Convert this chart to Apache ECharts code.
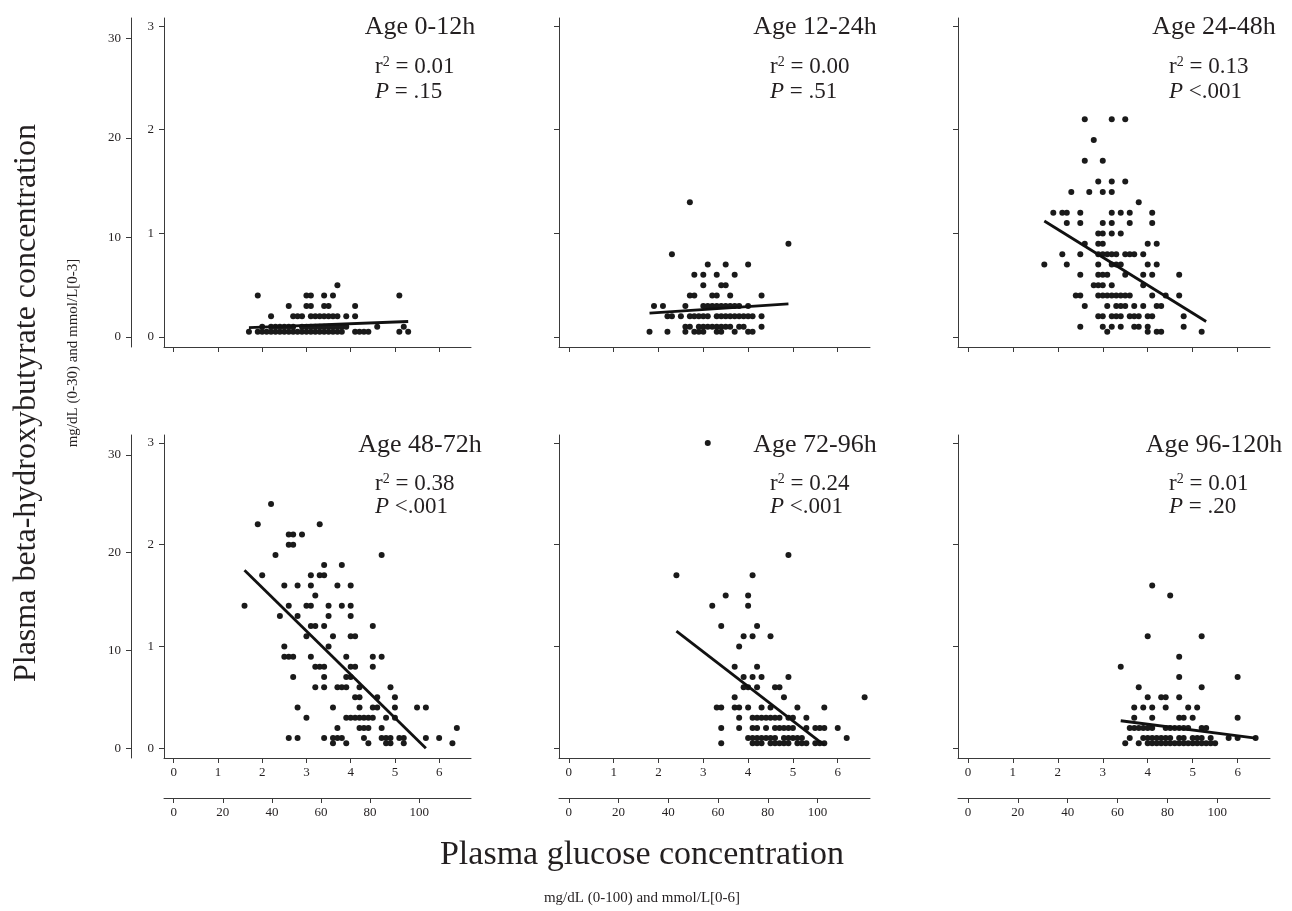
<!DOCTYPE html>
<html><head><meta charset="utf-8">
<script src="https://cdn.jsdelivr.net/npm/echarts@6/dist/echarts.min.js"></script>
<style>html,body{margin:0;padding:0;background:#fff}#c{width:1292px;height:911px}</style>
</head><body><div id="c"></div>
<script>
// ---------- DATA ----------
const ageLabels = ['Age 0-12h','Age 12-24h','Age 24-48h','Age 48-72h','Age 72-96h','Age 96-120h'];
const r2Labels = ['0.01','0.00','0.13','0.38','0.24','0.01'];
const pLabels = ['= .15','= .51','<.001','<.001','<.001','= .20'];
const glucoseTicksMmol = [0,1,2,3,4,5,6];
const glucoseTicksMg = [0,20,40,60,80,100];
const bhbTicksMmol = [0,1,2,3];
const bhbTicksMg = [0,10,20,30];

// rows: [beta-hydroxybutyrate mmol/L, [glucose mmol/L, ...]]
const age0_12 = [
 [0.5,[3.7]],
 [0.4,[1.9,3.0,3.1,3.4,3.6,5.1]],
 [0.3,[2.6,3.0,3.1,3.4,3.5,4.1]],
 [0.2,[2.2,2.7,2.8,2.9,3.1,3.2,3.3,3.4,3.5,3.6,3.7,3.9,4.1]],
 [0.1,[2.0,2.2,2.3,2.4,2.5,2.6,2.7,2.9,3.0,3.1,3.2,3.3,3.4,3.5,3.6,3.7,3.8,3.9,4.6,5.2]],
 [0.05,[1.7,1.9,2.0,2.1,2.2,2.3,2.4,2.5,2.6,2.7,2.8,2.9,3.0,3.1,3.2,3.3,3.4,3.5,3.6,3.7,3.8,4.1,4.2,4.3,4.4,5.1,5.3]]
];
const age12_24 = [
 [1.3,[2.7]],
 [0.9,[4.9]],
 [0.8,[2.3]],
 [0.7,[3.1,3.5,4.0]],
 [0.6,[2.8,3.0,3.3,3.7]],
 [0.5,[3.0,3.4,3.5]],
 [0.4,[2.7,2.8,3.2,3.3,3.6,4.3]],
 [0.3,[1.9,2.1,2.6,3.0,3.1,3.2,3.3,3.4,3.5,3.6,3.7,3.8,4.0]],
 [0.2,[2.2,2.3,2.5,2.7,2.8,2.9,3.0,3.1,3.3,3.4,3.5,3.6,3.7,3.8,3.9,4.0,4.1,4.3]],
 [0.1,[2.6,2.7,2.9,3.0,3.1,3.2,3.3,3.4,3.5,3.6,3.8,3.9,4.3]],
 [0.05,[1.8,2.2,2.6,2.8,2.9,3.0,3.3,3.4,3.7,4.0,4.1]]
];
const age24_48 = [
 [2.1,[2.6,3.2,3.5]],
 [1.9,[2.8]],
 [1.7,[2.6,3.0]],
 [1.5,[2.9,3.2,3.5]],
 [1.4,[2.3,2.7,3.0,3.2]],
 [1.3,[3.8]],
 [1.2,[1.9,2.1,2.2,2.5,3.2,3.4,3.6,4.1]],
 [1.1,[2.2,2.5,3.0,3.2,3.6,4.1]],
 [1.0,[2.9,3.0,3.2,3.4]],
 [0.9,[2.6,2.9,3.0,4.0,4.2]],
 [0.8,[2.1,2.5,2.9,3.0,3.1,3.2,3.3,3.5,3.6,3.7,3.9]],
 [0.7,[1.7,2.2,2.9,3.2,3.3,3.4,4.0,4.2]],
 [0.6,[2.5,2.9,3.0,3.1,3.5,3.9,4.1,4.7]],
 [0.5,[2.8,2.9,3.0,3.2,3.9]],
 [0.4,[2.4,2.5,2.9,3.0,3.1,3.2,3.3,3.4,3.5,3.6,4.1,4.4,4.7]],
 [0.3,[2.6,3.1,3.3,3.4,3.5,3.7,3.9,4.2,4.3]],
 [0.2,[2.9,3.0,3.2,3.3,3.4,3.6,3.7,3.8,4.0,4.1,4.8]],
 [0.1,[2.5,3.0,3.2,3.4,3.7,3.8,4.0,4.8]],
 [0.05,[3.1,4.0,4.2,4.3,5.2]]
];
const age48_72 = [
 [2.4,[2.2]],
 [2.2,[1.9,3.3]],
 [2.1,[2.6,2.7,2.9]],
 [2.0,[2.6,2.7]],
 [1.9,[2.3,4.7]],
 [1.8,[3.4,3.8]],
 [1.7,[2.0,3.1,3.3,3.4]],
 [1.6,[2.5,2.8,3.1,3.7,4.0]],
 [1.5,[3.2]],
 [1.4,[1.6,2.6,3.0,3.1,3.5,3.8,4.0]],
 [1.3,[2.4,2.8,3.5,4.0]],
 [1.2,[3.1,3.2,3.4,4.5]],
 [1.1,[3.0,3.6,4.0,4.1]],
 [1.0,[2.5,3.5]],
 [0.9,[2.5,2.6,2.7,3.1,3.9,4.5,4.7]],
 [0.8,[3.2,3.3,3.4,4.0,4.1,4.5]],
 [0.7,[2.7,3.4,3.9,4.0]],
 [0.6,[3.2,3.4,3.7,3.8,3.9,4.2,4.9]],
 [0.5,[4.1,4.2,4.6,5.0]],
 [0.4,[2.8,3.6,4.2,4.5,4.6,5.0,5.5,5.7]],
 [0.3,[3.0,3.9,4.0,4.1,4.2,4.3,4.4,4.5,4.8,5.0]],
 [0.2,[3.7,4.2,4.3,4.4,4.7,6.4]],
 [0.1,[2.6,2.8,3.4,3.6,3.7,3.8,4.3,4.7,4.8,4.9,5.1,5.2,5.7,6.0]],
 [0.05,[3.6,3.9,4.4,4.8,4.9,5.2,6.3]]
];
const age72_96 = [
 [3.0,[3.1]],
 [1.9,[4.9]],
 [1.7,[2.4,4.1]],
 [1.5,[3.5,4.0]],
 [1.4,[3.2,4.0]],
 [1.2,[3.4,4.2]],
 [1.1,[3.9,4.1,4.5]],
 [1.0,[3.8]],
 [0.8,[3.7,4.2]],
 [0.7,[3.9,4.1,4.3,4.9]],
 [0.6,[3.9,4.0,4.2,4.6,4.7]],
 [0.5,[3.7,4.8,6.6]],
 [0.4,[3.3,3.4,3.7,3.8,4.0,4.3,4.5,5.1,5.7]],
 [0.3,[3.8,4.1,4.2,4.3,4.4,4.5,4.6,4.7,4.9,5.0,5.3]],
 [0.2,[3.4,3.8,4.1,4.2,4.4,4.6,4.7,4.8,4.9,5.0,5.3,5.5,5.6,5.7,6.0]],
 [0.1,[4.0,4.1,4.2,4.3,4.4,4.5,4.6,4.8,4.9,5.0,5.1,5.2,6.2]],
 [0.05,[3.4,4.1,4.2,4.3,4.5,4.6,4.7,4.8,4.9,5.1,5.2,5.3,5.5,5.6,5.7]]
];
const age96_120 = [
 [1.6,[4.1]],
 [1.5,[4.5]],
 [1.1,[4.0,5.2]],
 [0.9,[4.7]],
 [0.8,[3.4]],
 [0.7,[4.7,6.0]],
 [0.6,[3.8,5.2]],
 [0.5,[4.0,4.3,4.4,4.7]],
 [0.4,[3.7,3.9,4.1,4.4,4.9,5.1]],
 [0.3,[3.7,4.1,4.7,4.8,5.0,6.0]],
 [0.2,[3.6,3.7,3.8,3.9,4.0,4.1,4.4,4.5,4.6,4.7,4.8,4.9,5.2,5.3]],
 [0.1,[3.6,3.9,4.0,4.1,4.2,4.3,4.4,4.5,4.7,4.8,5.0,5.1,5.2,5.4,5.8,6.0,6.4]],
 [0.05,[3.5,3.8,4.0,4.1,4.2,4.3,4.4,4.5,4.6,4.7,4.8,4.9,5.0,5.1,5.2,5.3,5.4,5.5]]
];
// regression line end points [glucose mmol/L, BHB mmol/L]
const fit0_12 = [[1.7,0.09],[5.3,0.15]];
const fit12_24 = [[1.8,0.23],[4.9,0.32]];
const fit24_48 = [[1.7,1.12],[5.3,0.15]];
const fit48_72 = [[1.6,1.75],[5.7,0.0]];
const fit72_96 = [[2.4,1.15],[5.7,0.03]];
const fit96_120 = [[3.4,0.27],[6.4,0.10]];

// ---------- LAYOUT ----------
const panels = [age0_12, age12_24, age24_48, age48_72, age72_96, age96_120];
const fits = [fit0_12, fit12_24, fit24_48, fit48_72, fit72_96, fit96_120];
const GLU_MG_PER_MMOL = 18.02;
const BHB_MG_PER_MMOL = 10.41;
const X_MIN = -0.22, X_MAX = 6.72;
const Y_MIN = -0.096, Y_MAX = 3.078;
const colLeft = [164, 559, 958];
const colWidth = [307, 311, 312];
const rowTop = [18, 435];
const rowHeight = [329, 323];
const FONT = "'Liberation Serif', 'Times New Roman', serif";
const INK = '#231f20';
const DOT = '#1a1a1a';
const AX = '#3a3a3a';

function toPairs(rows){ const out=[]; rows.forEach(r=>r[1].forEach(x=>out.push([x,r[0]]))); return out; }

const grid=[], xAxis=[], yAxis=[], series=[], graphic=[];
panels.forEach((rows,i)=>{
  const col=i%3, row=Math.floor(i/3);
  grid.push({left:colLeft[col], top:rowTop[row], width:colWidth[col], height:rowHeight[row], outerBoundsMode:'none'});
  const bottom = row===1;
  const xi = xAxis.length;
  xAxis.push({type:'value', gridIndex:i, position:'bottom', min:X_MIN, max:X_MAX,
    axisLine:{show:true, onZero:false, lineStyle:{color:AX,width:1}},
    axisTick:{show:true, length:5, customValues:glucoseTicksMmol, lineStyle:{color:AX,width:1}},
    axisLabel:{show:bottom, customValues:glucoseTicksMmol, margin:8, fontFamily:FONT, fontSize:13, color:INK},
    splitLine:{show:false}});
  if(bottom){
    xAxis.push({type:'value', gridIndex:i, position:'bottom', offset:40,
      min:X_MIN*GLU_MG_PER_MMOL, max:X_MAX*GLU_MG_PER_MMOL,
      axisLine:{show:true, onZero:false, lineStyle:{color:AX,width:1}},
      axisTick:{show:true, length:5, customValues:glucoseTicksMg, lineStyle:{color:AX,width:1}},
      axisLabel:{show:true, customValues:glucoseTicksMg, margin:8, fontFamily:FONT, fontSize:13, color:INK},
      splitLine:{show:false}});
  }
  const yi = yAxis.length;
  yAxis.push({type:'value', gridIndex:i, position:'left', min:Y_MIN, max:Y_MAX,
    axisLine:{show:true, onZero:false, lineStyle:{color:AX,width:1}},
    axisTick:{show:true, length:5, customValues:bhbTicksMmol, lineStyle:{color:AX,width:1}},
    axisLabel:{show:col===0, customValues:bhbTicksMmol, margin:10, fontFamily:FONT, fontSize:13, color:INK},
    splitLine:{show:false}});
  if(col===0){
    yAxis.push({type:'value', gridIndex:i, position:'left', offset:33,
      min:Y_MIN*BHB_MG_PER_MMOL, max:Y_MAX*BHB_MG_PER_MMOL,
      axisLine:{show:true, onZero:false, lineStyle:{color:AX,width:1}},
      axisTick:{show:true, length:5, customValues:bhbTicksMg, lineStyle:{color:AX,width:1}},
      axisLabel:{show:true, customValues:bhbTicksMg, margin:10, fontFamily:FONT, fontSize:13, color:INK},
      splitLine:{show:false}});
  }
  series.push({type:'scatter', xAxisIndex:xi, yAxisIndex:yi, data:toPairs(rows),
    symbol:'circle', symbolSize:6, itemStyle:{color:DOT, opacity:1}, silent:true, z:2});
  series.push({type:'line', xAxisIndex:xi, yAxisIndex:yi, data:fits[i], symbol:'none',
    lineStyle:{color:'#111',width:2.8}, silent:true, z:3});

  const L = colLeft[col];
  const ageY = row===0 ? 27 : 445;
  const rY = row===0 ? 67 : 484;
  const pY = row===0 ? 92 : 507;
  graphic.push({type:'text', x:L+256, y:ageY, style:{text:ageLabels[i], font:"26px "+FONT, fill:INK, align:'center', verticalAlign:'middle'}});
  graphic.push({type:'text', x:L+211, y:rY, style:{text:'{r|r}{s|2}{t| = '+r2Labels[i]+'}', align:'left', verticalAlign:'middle',
    rich:{r:{font:"23px "+FONT, fill:INK}, s:{font:"14px "+FONT, fill:INK, verticalAlign:'top', padding:[0,0,8,0]}, t:{font:"23px "+FONT, fill:INK}}}});
  graphic.push({type:'text', x:L+211, y:pY, style:{text:'{p|P}{t| '+pLabels[i]+'}', align:'left', verticalAlign:'middle',
    rich:{p:{font:"italic 23px "+FONT, fill:INK}, t:{font:"23px "+FONT, fill:INK}}}});
});

graphic.push({type:'text', x:27, y:403, rotation:Math.PI/2, style:{text:'Plasma beta-hydroxybutyrate concentration', font:"32px "+FONT, fill:INK, align:'center', verticalAlign:'middle'}});
graphic.push({type:'text', x:73, y:353, rotation:Math.PI/2, style:{text:'mg/dL (0-30) and mmol/L[0-3]', font:"15px "+FONT, fill:INK, align:'center', verticalAlign:'middle'}});
graphic.push({type:'text', x:642, y:855, style:{text:'Plasma glucose concentration', font:"34px "+FONT, fill:INK, align:'center', verticalAlign:'middle'}});
graphic.push({type:'text', x:642, y:898, style:{text:'mg/dL (0-100) and mmol/L[0-6]', font:"15px "+FONT, fill:INK, align:'center', verticalAlign:'middle'}});

const chart = echarts.init(document.getElementById('c'), null, {renderer:'canvas'});
chart.setOption({backgroundColor:'#fff', animation:false, grid, xAxis, yAxis, series, graphic});
</script></body></html>
